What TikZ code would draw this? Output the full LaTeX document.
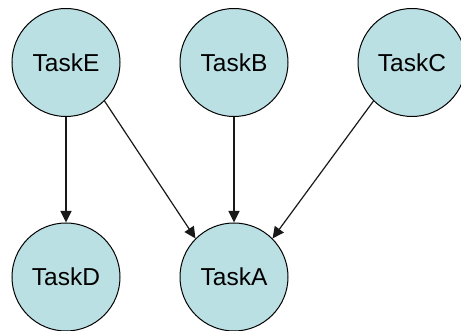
\documentclass[tikz,border=0pt]{standalone}
\usepackage{fontspec}
\setmainfont{Liberation Sans}
\usetikzlibrary{arrows.meta}
\definecolor{taskfill}{RGB}{187,224,227}
\begin{document}
\begin{tikzpicture}[x=1pt,y=1pt,
  task/.style={circle,draw=black,line width=1pt,fill=taskfill,minimum size=108pt,inner sep=0pt,font=\fontsize{24.5}{29}\selectfont},
  conn/.style={draw=black!90,line width=1.2pt,-{Triangle[length=11.5pt,width=11pt]}}]
\useasboundingbox (0,0) rectangle (461,331);
\begin{scope}
\clip (0,0) rectangle (461,331);
\node[task] (E) at (66,268.5) {TaskE};
\node[task] (B) at (234,268.5) {TaskB};
\node[task] (C) at (412,268.5) {TaskC};
\node[task] (D) at (66,54) {TaskD};
\node[task] (A) at (234,54) {TaskA};
\draw[conn] (E.south) -- (D.north);
\draw[conn] (B.south) -- (A.north);
\draw[conn] (E.-45) -- (A.135);
\draw[conn] (C.-135) -- (A.45);
\end{scope}
\end{tikzpicture}
\end{document}
